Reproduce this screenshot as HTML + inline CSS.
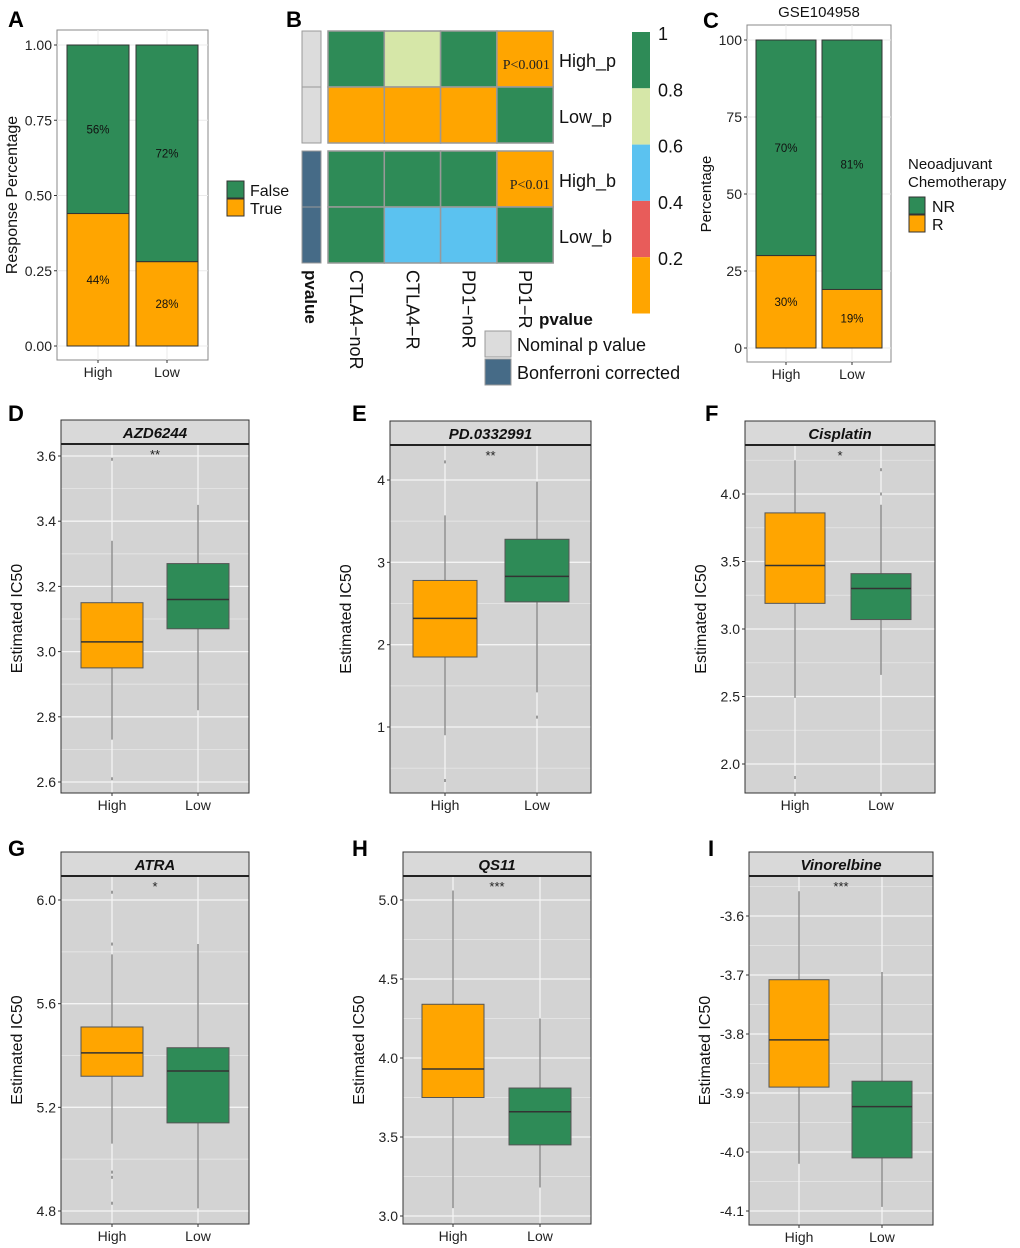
<!DOCTYPE html>
<html><head><meta charset="utf-8"><style>
html,body{margin:0;padding:0;background:#fff}
svg{display:block;font-family:"Liberation Sans",Arial,sans-serif}
</style></head><body>
<svg id="fig" width="1020" height="1248" viewBox="0 0 1020 1248" xmlns="http://www.w3.org/2000/svg">
<g font-weight="bold" font-size="22" fill="#000">
<text x="8" y="27">A</text>
<text x="286" y="27">B</text>
<text x="703" y="28">C</text>
<text x="8" y="421">D</text>
<text x="352" y="421">E</text>
<text x="705" y="421">F</text>
<text x="8" y="856">G</text>
<text x="352" y="856">H</text>
<text x="708" y="856">I</text>
</g>
<g id="panelA"></g>
<g id="panelB"></g>
<g id="panelC"></g>
<g id="boxes"></g>
</svg>
<script>
// ---- Panel A data ----
const aCategories = ["High", "Low"];
const aTrue = [0.44, 0.28];
const aTicks = [0, 0.25, 0.5, 0.75, 1.0];
const aTickLabels = ["0.00", "0.25", "0.50", "0.75", "1.00"];
// ---- Panel C data ----
const cCategories = ["High", "Low"];
const cR = [30, 19];
const cTicks = [0, 25, 50, 75, 100];
// ---- Panel B data ----
const bRows = ["High_p", "Low_p", "High_b", "Low_b"];
const bCols = ["CTLA4\u2212noR", "CTLA4\u2212R", "PD1\u2212noR", "PD1\u2212R"];
const bValues = [[0.9, 0.7, 0.9, 0.1], [0.1, 0.1, 0.1, 0.9], [0.9, 0.9, 0.9, 0.1], [0.9, 0.5, 0.5, 0.9]];
const bNotes = [["", "", "", "P<0.001"], ["", "", "", ""], ["", "", "", "P<0.01"], ["", "", "", ""]];
const bScaleLabels = ["1", "0.8", "0.6", "0.4", "0.2"];
// ---- Boxplot data ----
const drugNames = ["AZD6244", "PD.0332991", "Cisplatin", "ATRA", "QS11", "Vinorelbine"];
const drugSig = ["**", "**", "*", "*", "***", "***"];
const boxGroups = ["High", "Low"];
// [lower whisker, q1, median, q3, upper whisker]
const statsHigh = [[2.73, 2.95, 3.03, 3.15, 3.34], [0.9, 1.85, 2.32, 2.78, 3.57], [2.49, 3.19, 3.47, 3.86, 4.25], [5.06, 5.32, 5.41, 5.51, 5.79], [3.05, 3.75, 3.93, 4.34, 5.06], [-4.02, -3.89, -3.81, -3.708, -3.558]];
const statsLow = [[2.82, 3.07, 3.16, 3.27, 3.45], [1.42, 2.52, 2.83, 3.28, 3.98], [2.66, 3.07, 3.30, 3.41, 3.92], [4.81, 5.14, 5.34, 5.43, 5.83], [3.18, 3.45, 3.66, 3.81, 4.25], [-4.093, -4.01, -3.923, -3.88, -3.695]];
const outliersHigh = [[2.61, 3.59], [0.35, 4.22], [1.9], [4.83, 4.93, 4.95, 5.83, 6.03], [], []];
const outliersLow = [[], [1.12], [4.0, 4.18], [], [], []];
const tickValues = [[2.6, 2.8, 3.0, 3.2, 3.4, 3.6], [1, 2, 3, 4], [2.0, 2.5, 3.0, 3.5, 4.0], [4.8, 5.2, 5.6, 6.0], [3.0, 3.5, 4.0, 4.5, 5.0], [-4.1, -4.0, -3.9, -3.8, -3.7, -3.6]];
const tickLabels = [["2.6", "2.8", "3.0", "3.2", "3.4", "3.6"], ["1", "2", "3", "4"], ["2.0", "2.5", "3.0", "3.5", "4.0"], ["4.8", "5.2", "5.6", "6.0"], ["3.0", "3.5", "4.0", "4.5", "5.0"], ["-4.1", "-4.0", "-3.9", "-3.8", "-3.7", "-3.6"]];

const NS = "http://www.w3.org/2000/svg";
const GREEN = "#2e8b57", ORANGE = "#ffa500";
function mk(parent, tag, attrs, text) {
  const e = document.createElementNS(NS, tag);
  for (const k in attrs) e.setAttribute(k, attrs[k]);
  if (text !== undefined) e.textContent = text;
  parent.appendChild(e);
  return e;
}

// ---------- stacked bar panels ----------
function stacked(g, cfg) {
  const y = v => cfg.y0 + (v - cfg.vmin) / (cfg.vmax - cfg.vmin) * (cfg.y1 - cfg.y0);
  const bg = mk(g, "rect", {x: cfg.px0, y: cfg.py0, width: cfg.px1 - cfg.px0, height: cfg.py1 - cfg.py0, fill: "#fff", stroke: "#888", "stroke-width": 1});
  
  
  cfg.ticks.forEach((t, i) => {
    mk(g, "line", {x1: cfg.px0, x2: cfg.px1, y1: y(t), y2: y(t), stroke: "#ebebeb", "stroke-width": 1});
    const lab = mk(g, "text", {x: cfg.px0 - 5, y: y(t) + 5, "text-anchor": "end", "font-size": 14, fill: "#222"}, cfg.tickLabels[i]);
    
    
    mk(g, "line", {x1: cfg.px0 - 3, x2: cfg.px0, y1: y(t), y2: y(t), stroke: "#333"});
  });
  cfg.cats.forEach((c, i) => {
    const cx = cfg.cx[i], w = cfg.bw;
    mk(g, "line", {x1: cx, x2: cx, y1: cfg.py0, y2: cfg.py1, stroke: "#ebebeb"});
    const lower = cfg.vals[i];
    const r1 = mk(g, "rect", {x: cx - w / 2, y: y(cfg.vmax), width: w, height: y(lower) - y(cfg.vmax), fill: GREEN, stroke: "#333", "stroke-width": 1});
    
    
    const r2 = mk(g, "rect", {x: cx - w / 2, y: y(lower), width: w, height: y(cfg.vmin) - y(lower), fill: ORANGE, stroke: "#333", "stroke-width": 1});
    
    
    const pctTop = Math.round((cfg.vmax - lower) / (cfg.vmax - cfg.vmin) * 100);
    const pctBot = 100 - pctTop;
    const t1 = mk(g, "text", {x: cx, y: (y(cfg.vmax) + y(lower)) / 2 + 4, "text-anchor": "middle", "font-size": 11.5, fill: "#111"}, pctTop + "%");
    
    
    const t2 = mk(g, "text", {x: cx, y: (y(lower) + y(cfg.vmin)) / 2 + 4, "text-anchor": "middle", "font-size": 11.5, fill: "#111"}, pctBot + "%");
    
    
    mk(g, "line", {x1: cx, x2: cx, y1: cfg.py1, y2: cfg.py1 + 3, stroke: "#333"});
    const xl = mk(g, "text", {x: cx, y: cfg.py1 + 17, "text-anchor": "middle", "font-size": 14, fill: "#222"}, c);
    
    
  });
}
const gA = document.getElementById("panelA");
stacked(gA, {px0: 57, px1: 208, py0: 30, py1: 360, y0: 346, y1: 45, vmin: 0, vmax: 1, ticks: aTicks, tickLabels: aTickLabels,
  cats: aCategories, cx: [98, 167], bw: 62, vals: aTrue, topName: "false", botName: "true"});
const aT = mk(gA, "text", {transform: "translate(17,195) rotate(-90)", "text-anchor": "middle", "font-size": 16, fill: "#111"}, "Response  Percentage");


[["False", GREEN, 181], ["True", ORANGE, 199]].forEach(([n, col, yy]) => {
  const r = mk(gA, "rect", {x: 227, y: yy, width: 17, height: 17, fill: col, stroke: "#333"});
  
  
  const t = mk(gA, "text", {x: 250, y: yy + 15, "font-size": 16, fill: "#111"}, n);
  
  
});

const gC = document.getElementById("panelC");
stacked(gC, {px0: 747, px1: 891, py0: 25, py1: 362, y0: 348, y1: 40, vmin: 0, vmax: 100, ticks: cTicks, tickLabels: cTicks.map(String),
  cats: cCategories, cx: [786, 852], bw: 60, vals: cR, topName: "nr", botName: "r"});
const cTitle = mk(gC, "text", {x: 819, y: 17, "text-anchor": "middle", "font-size": 15, fill: "#111"}, "GSE104958");


const cY = mk(gC, "text", {transform: "translate(711,194) rotate(-90)", "text-anchor": "middle", "font-size": 15, fill: "#111"}, "Percentage");


const cl1 = mk(gC, "text", {x: 908, y: 169, "font-size": 15, fill: "#111"}, "Neoadjuvant");


const cl2 = mk(gC, "text", {x: 908, y: 187, "font-size": 15, fill: "#111"}, "Chemotherapy");


[["NR", GREEN, 197], ["R", ORANGE, 215]].forEach(([n, col, yy]) => {
  const r = mk(gC, "rect", {x: 909, y: yy, width: 16, height: 17, fill: col, stroke: "#333"});
  
  
  const t = mk(gC, "text", {x: 932, y: yy + 15, "font-size": 16, fill: "#111"}, n);
  
  
});

// ---------- Panel B heatmap ----------
const gB = document.getElementById("panelB");
function heatColor(v) {
  if (v >= 0.8) return GREEN;
  if (v >= 0.6) return "#d6e7a8";
  if (v >= 0.4) return "#5bc2f0";
  if (v >= 0.2) return "#e85c5a";
  return ORANGE;
}
const colX = c => 328 + c * 56.3;
const rowY = r => 31 + r * 56 + (r >= 2 ? 8 : 0);
bRows.forEach((rn, r) => {
  const ann = mk(gB, "rect", {x: 302, y: rowY(r), width: 19, height: 56, fill: r < 2 ? "#dcdcdc" : "#466b87", stroke: "#999", "stroke-width": 1});
  
  
  bCols.forEach((cn, c) => {
    const cell = mk(gB, "rect", {x: colX(c), y: rowY(r), width: 56.3, height: 56, fill: heatColor(bValues[r][c]), stroke: "#999", "stroke-width": 1.5});
    
    
    if (bNotes[r][c]) {
      const t = mk(gB, "text", {x: colX(c) + 53, y: rowY(r) + 38, "text-anchor": "end", "font-size": 14, "font-family": "Liberation Serif,serif", fill: "#222"}, bNotes[r][c]);
      
      
    }
  });
  const rl = mk(gB, "text", {x: 559, y: rowY(r) + 36, "font-size": 18, fill: "#111"}, rn);
  
  
});
bCols.forEach((cn, c) => {
  const t = mk(gB, "text", {transform: `translate(${colX(c) + 22},270) rotate(90)`, "font-size": 18, fill: "#111"}, cn);
  
  
});
const pv = mk(gB, "text", {transform: "translate(305,270) rotate(90)", "font-size": 17, "font-weight": "bold", fill: "#111"}, "pvalue");


const segCols = [GREEN, "#d6e7a8", "#5bc2f0", "#e85c5a", ORANGE];
segCols.forEach((col, i) => {
  const s = mk(gB, "rect", {x: 632, y: 32 + i * 56.3, width: 18, height: 56.3, fill: col});
  
  
});
bScaleLabels.forEach((l, i) => {
  const t = mk(gB, "text", {x: 658, y: 40 + i * 56.3, "font-size": 18, fill: "#111"}, l);
  
  
});
const lt = mk(gB, "text", {x: 539, y: 325, "font-size": 17, "font-weight": "bold", fill: "#111"}, "pvalue");


[["Nominal p value", "#dcdcdc", 331], ["Bonferroni corrected", "#466b87", 359]].forEach(([n, col, yy]) => {
  const r = mk(gB, "rect", {x: 485, y: yy, width: 26, height: 26, fill: col, stroke: "#999"});
  
  
  const t = mk(gB, "text", {x: 517, y: yy + 20, "font-size": 18, fill: "#111"}, n);
  
  
});

// ---------- Boxplots ----------
const gBox = document.getElementById("boxes");
const layouts = [
  {x0: 61, x1: 249, st: 420, pb: 793, va: 3.6, ya: 456, vb: 2.6, yb: 782, cx: [112, 198], bw: 62},
  {x0: 390, x1: 591, st: 421, pb: 793, va: 4, ya: 480, vb: 1, yb: 727, cx: [445, 537], bw: 64},
  {x0: 745, x1: 935, st: 421, pb: 793, va: 4.0, ya: 494, vb: 2.0, yb: 764, cx: [795, 881], bw: 60},
  {x0: 61, x1: 249, st: 852, pb: 1224, va: 6.0, ya: 900, vb: 4.8, yb: 1211, cx: [112, 198], bw: 62},
  {x0: 403, x1: 591, st: 852, pb: 1224, va: 5.0, ya: 900, vb: 3.0, yb: 1216, cx: [453, 540], bw: 62},
  {x0: 749, x1: 933, st: 852, pb: 1225, va: -3.6, ya: 916, vb: -4.1, yb: 1211, cx: [799, 882], bw: 60}
];
drugNames.forEach((name, k) => {
  const L = layouts[k];
  const g = mk(gBox, "g", {});
  
  
  const y = v => L.ya + (v - L.va) / (L.vb - L.va) * (L.yb - L.ya);
  const pt = L.st + 24;
  mk(g, "rect", {x: L.x0, y: pt, width: L.x1 - L.x0, height: L.pb - pt, fill: "#d3d3d3"});
  const tv = tickValues[k];
  const step = tv[1] - tv[0];
  for (let i = 0; i < tv.length; i++) {
    [tv[i] - step / 2, tv[i] + step / 2].forEach(m => {
      const yy = y(m);
      if (yy > pt && yy < L.pb) mk(g, "line", {x1: L.x0, x2: L.x1, y1: yy, y2: yy, stroke: "#e4e4e4", "stroke-width": 0.8});
    });
  }
  tv.forEach((t, i) => {
    mk(g, "line", {x1: L.x0, x2: L.x1, y1: y(t), y2: y(t), stroke: "#f4f4f4", "stroke-width": 1.3});
    mk(g, "line", {x1: L.x0 - 3, x2: L.x0, y1: y(t), y2: y(t), stroke: "#333"});
    const lab = mk(g, "text", {x: L.x0 - 5, y: y(t) + 5, "text-anchor": "end", "font-size": 14, fill: "#222"}, tickLabels[k][i]);
    
    
  });
  L.cx.forEach(cx => mk(g, "line", {x1: cx, x2: cx, y1: pt, y2: L.pb, stroke: "#f4f4f4", "stroke-width": 1.3}));
  [statsHigh[k], statsLow[k]].forEach((s, j) => {
    const cx = L.cx[j], w = L.bw;
    mk(g, "line", {x1: cx, x2: cx, y1: y(s[0]), y2: y(s[4]), stroke: "#666", "stroke-width": 1});
    const box = mk(g, "rect", {x: cx - w / 2, y: y(s[3]), width: w, height: y(s[1]) - y(s[3]), fill: j === 0 ? ORANGE : GREEN, stroke: "#555", "stroke-width": 1});
    
    
    const med = mk(g, "line", {x1: cx - w / 2, x2: cx + w / 2, y1: y(s[2]), y2: y(s[2]), stroke: "#333", "stroke-width": 1.5});
    
    
    const outs = j === 0 ? outliersHigh[k] : outliersLow[k];
    outs.forEach(o => {
      const p = mk(g, "line", {x1: cx, x2: cx, y1: y(o) - 1.5, y2: y(o) + 1.5, stroke: "#777", "stroke-width": 1.3});
      
      
    });
    mk(g, "line", {x1: cx, x2: cx, y1: L.pb, y2: L.pb + 3, stroke: "#333"});
    const xl = mk(g, "text", {x: cx, y: L.pb + 17, "text-anchor": "middle", "font-size": 14, fill: "#222"}, boxGroups[j]);
    
    
  });
  mk(g, "rect", {x: L.x0, y: pt, width: L.x1 - L.x0, height: L.pb - pt, fill: "none", stroke: "#333", "stroke-width": 1});
  const strip = mk(g, "rect", {x: L.x0, y: L.st, width: L.x1 - L.x0, height: 24, fill: "#d9d9d9", stroke: "#333", "stroke-width": 1});
  
  
  mk(g, "line", {x1: L.x0, x2: L.x1, y1: pt, y2: pt, stroke: "#222", "stroke-width": 2});
  const st = mk(g, "text", {x: (L.x0 + L.x1) / 2, y: L.st + 18, "text-anchor": "middle", "font-size": 15, "font-weight": "bold", "font-style": "italic", fill: "#111"}, name);
  
  
  const sg = mk(g, "text", {x: (L.x0 + L.x1) / 2, y: pt + 15, "text-anchor": "middle", "font-size": 13, fill: "#222"}, drugSig[k]);
  
  
  const yt = mk(g, "text", {transform: `translate(${L.x0 - 39},${(pt + L.pb) / 2}) rotate(-90)`, "text-anchor": "middle", "font-size": 16, fill: "#111"}, "Estimated  IC50");
  
  
});
</script>
</body></html>
